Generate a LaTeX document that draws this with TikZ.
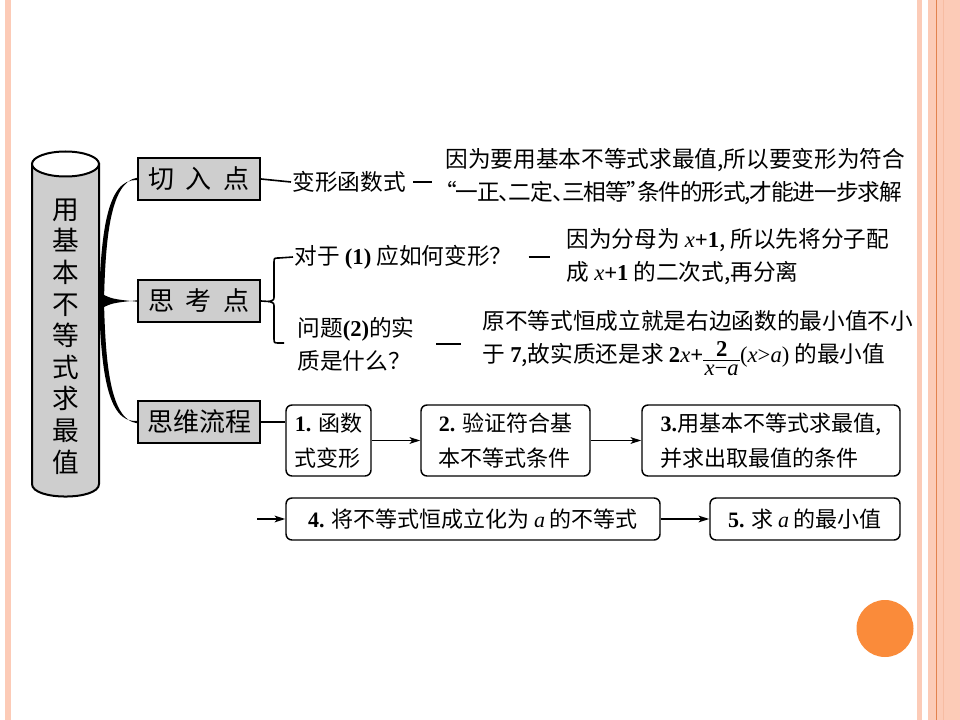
\documentclass[tikz,border=0pt]{standalone}
\usepackage{fontspec}
\setmainfont{Noto Sans CJK SC}
\newfontfamily\latfont{Liberation Serif}
\usetikzlibrary{arrows.meta}

\newcommand{\nm}[1]{{\latfont\bfseries #1}}
\newcommand{\vx}{{\latfont\itshape x}}
\newcommand{\va}{{\latfont\itshape a}}
\newcommand{\stackfrac}[2]{\raisebox{-2.5pt}{\renewcommand{\arraystretch}{0.35}\setlength{\tabcolsep}{1pt}\begin{tabular}{c}#1\rule[-2.5pt]{0pt}{0pt}\\\hline\rule{0pt}{11.5pt}#2\end{tabular}}}

\definecolor{slidepeach}{RGB}{252,203,183}
\definecolor{slideline}{RGB}{226,130,78}
\definecolor{slideband}{RGB}{247,188,162}
\definecolor{dotorange}{RGB}{250,139,58}
\definecolor{boxgray}{RGB}{206,206,206}

\tikzset{every picture/.style={line width=0.75pt}}
\tikzset{
  headbox/.style={draw,line width=1.5pt,fill=boxgray,minimum width=91.5pt,minimum height=31.5pt,inner sep=0pt,font=\fontsize{19.5}{22}\selectfont},
  flowbox/.style={draw,line width=1.1pt,rounded corners=4.5pt,align=left,inner sep=0pt,font=\fontsize{16.5}{26}\selectfont},
  body/.style={anchor=west,inner sep=0.75pt,align=left,font=\fontsize{17}{24.75}\selectfont},
  link/.style={line width=1.2pt},
  flow/.style={line width=1.2pt,-{Stealth[length=8pt,width=5pt,inset=2pt]}}
}

\begin{document}
\begin{tikzpicture}[x=0.75pt,y=0.75pt,yscale=-1,xscale=1]
	\useasboundingbox (0,0) rectangle (960,720);

	%Slide frame
	\fill[white] (0,0) rectangle (960,720);
	\fill[slidepeach] (5,0) rectangle (11,720);
	\fill[slidepeach] (917,0) rectangle (922,720);
	\fill[slidepeach] (928,0) rectangle (960,720);
	\fill[slideline] (935.5,0) rectangle (937,720);
	\fill[slideband] (942.5,0) rectangle (944,720);
	%Shape: Circle
	\fill[dotorange] (885,628.5) circle [radius=28.5];

	%Shape: Can
	\draw[line width=1.5pt,fill=boxgray] (32,164) -- (32,484) .. controls (32,500.7) and (99,500.7) .. (99,484) -- (99,164) -- cycle;
	\draw[line width=1.5pt,fill=white] (65.5,164) ellipse [x radius=33.5,y radius=12.5];
	% Text Node
	\draw (65.5,336.5) node [align=center,inner sep=0pt,font=\fontsize{20}{23.7}\selectfont] (title) {用\\基\\本\\不\\等\\式\\求\\最\\值};

	% Head boxes
	\draw (199,179) node [headbox] (qieru) {切\hspace{0.45em}入\hspace{0.45em}点};
	\draw (199,301) node [headbox] (sikao) {思\hspace{0.45em}考\hspace{0.45em}点};
	\draw (199,422) node [headbox] (siwei) {思维流程};

	%Curve Lines
	\fill (99,300) .. controls (101,238) and (106,178) .. ([yshift=0.9pt]qieru.west) -- ([yshift=-0.9pt]qieru.west) .. controls (110,182) and (105.5,240) .. (104,300) -- cycle;
	\fill (99,302) .. controls (101,364) and (106,424) .. ([yshift=-0.9pt]siwei.west) -- ([yshift=0.9pt]siwei.west) .. controls (110,420) and (105.5,362) .. (104,302) -- cycle;
	\fill (100,293) .. controls (112,299) .. ([yshift=0.5pt]sikao.west) -- ([yshift=-0.5pt]sikao.west) .. controls (112,303) .. (100,309) -- cycle;

	% Text Node
	\draw (291,182) node [body] (bxhs) {变形函数式};
	% Text Node
	\draw (444,176.5) node [body] (why1) {因为要用基本不等式求最值,所以要变形为符合\\{\addfontfeatures{RawFeature=+halt,LetterSpace=-5}“一正、二定、三相等”条件的形式,才能进一步求解}};
	% Text Node
	\draw (293,257) node [body] (q1) {对于 \nm{(1)} 应如何变形？};
	% Text Node
	\draw (565,256.5) node [body] (a1) {因为分母为 \vx\nm{+1}, 所以先将分子配\\成 \vx\nm{+1} 的二次式,再分离};
	% Text Node
	\draw (296,344) node [body] (q2) {问题\nm{(2)}的实\\质是什么？};
	% Text Node
	\draw (481,345) node [body] (a2) {原不等式恒成立就是右边函数的最小值不小\\于 \nm{7},故实质还是求 \nm{2}\vx\nm{+}\stackfrac{\nm{2}}{\vx{\latfont−}\va}{\latfont(}\vx{\latfont>}\va{\latfont)} 的最小值};

	%Straight Lines
	\draw[link] (qieru.east) -- (bxhs.west);
	\draw[link] ([xshift=4.5pt]bxhs.east) -- ([xshift=-9pt]why1.west |- bxhs.east);
	\draw[link] (sikao.east) -- (269,301.5);
	\coordinate (bracebot) at (284,343);
	\draw[link] (q1.west) -- (279,258) .. controls (274,258) .. (274,263) -- (274,296) .. controls (274,300) .. (269,301.5) .. controls (274,303) .. (274,307) -- (274,338) .. controls (274,343) .. (279,343) -- (bracebot);
	\draw[link] ([xshift=11pt]q1.east) -- ([xshift=-11pt]a1.west |- q1.east);
	\draw[link] ([xshift=15pt]q2.east) -- ([xshift=-15pt]a2.west |- q2.east);

	% Flow boxes
	\draw (328.5,440.5) node [flowbox,minimum width=63.75pt,minimum height=53.25pt] (s1) {\nm{1.} 函数\\式变形};
	\draw (505.5,440.5) node [flowbox,minimum width=126.75pt,minimum height=53.25pt] (s2) {\nm{2.} 验证符合基\\本不等式条件};
	\draw (771,440.5) node [flowbox,minimum width=193.5pt,minimum height=53.25pt] (s3) {\nm{3.}用基本不等式求最值,\\并求出取最值的条件};
	\draw (473,519) node [flowbox,minimum width=280.5pt,minimum height=31.5pt] (s4) {\nm{4.} 将不等式恒成立化为 \va\ 的不等式};
	\draw (805,519) node [flowbox,minimum width=142.5pt,minimum height=31.5pt] (s5) {\nm{5.} 求 \va\ 的最小值};

	%Arrows
	\draw[link] (siwei.east) -- (siwei.east -| s1.west);
	\draw[flow] (s1.east) -- (s2.west);
	\draw[flow] (s2.east) -- (s3.west);
	\coordinate (rowstart) at (257,519);
	\draw[flow] (rowstart) -- (s4.west);
	\draw[flow] (s4.east) -- (s5.west);

\end{tikzpicture}
\end{document}
